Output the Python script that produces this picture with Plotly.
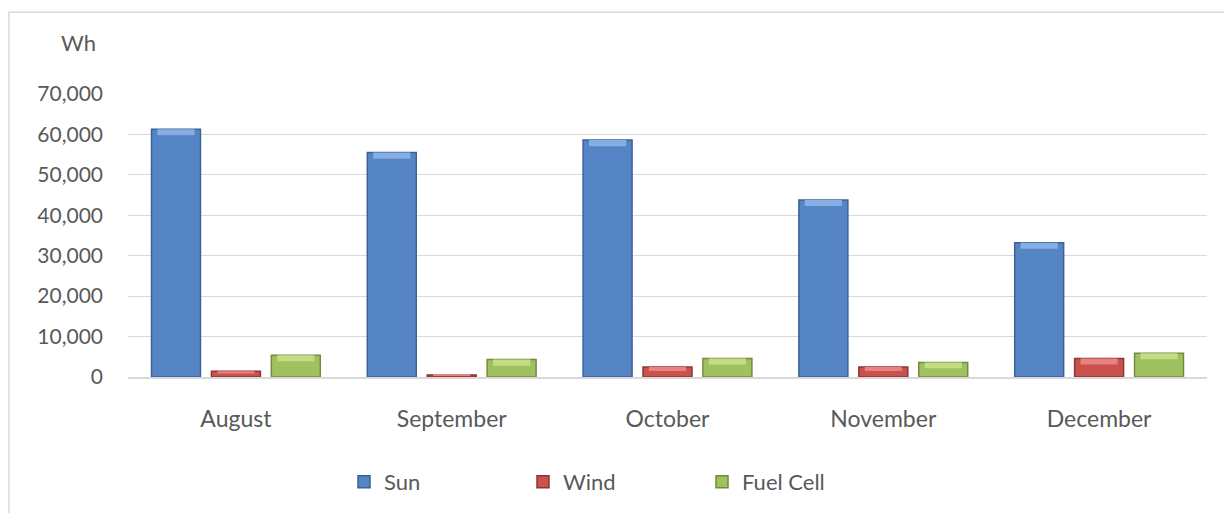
import plotly.graph_objects as go

months = ["August", "September", "October", "November", "December"]
sun = [61300, 55500, 58600, 43800, 33200]
wind = [1400, 500, 2500, 2500, 4600]
fuel_cell = [5400, 4300, 4600, 3600, 5900]
y_ticks = [0, 10000, 20000, 30000, 40000, 50000, 60000, 70000]
y_tick_labels = ["0", "10,000", "20,000", "30,000", "40,000", "50,000", "60,000", "70,000"]

FONT = "Lato"
TXT = "#595959"
OFF = 8  # page body margin
W, H = 1232 - OFF, 513 - OFF
L, T = 128 - OFF, 94 - OFF
R = W - (1207 - OFF)
B = H - (378 - OFF)
pw, ph = W - L - R, H - T - B
BEVEL = 1500  # max height of the light top band, in axis units (style only)
BEVEL_FRAC = 0.4

def px_x(x):
    return (x - OFF - L) / pw

def px_y(y):
    return (H - B - (y - OFF)) / ph

fig = go.Figure()
series = [
    ("Sun", sun, "#5585C5", "#3A6296", "#86AEE2"),
    ("Wind", wind, "#C9524F", "#8E3533", "#E8817F"),
    ("Fuel Cell", fuel_cell, "#A0C15F", "#728C3E", "#C3DD85"),
]
for name, vals, col, edge, light in series:
    fig.add_trace(go.Bar(
        x=months, y=vals, name=name, offsetgroup=name,
        marker=dict(color=col, line=dict(color=edge, width=1.5)),
    ))
    band = [min(BEVEL, v * BEVEL_FRAC) for v in vals]
    fig.add_trace(go.Bar(
        x=months, y=band, base=[v - b for v, b in zip(vals, band)],
        name=name, offsetgroup=name, showlegend=False, hoverinfo="skip",
        width=0.62 * (1 - 0.167) / 3,
        marker=dict(color=light, line=dict(width=0)),
    ))

fig.update_layout(
    width=W, height=H,
    margin=dict(l=L, r=R, t=T, b=B),
    paper_bgcolor="white", plot_bgcolor="white",
    barmode="group", bargap=0.167, bargroupgap=0.183,
    font=dict(family=FONT, size=21, color=TXT),
    showlegend=True,
    legend=dict(orientation="h", x=px_x(344), xanchor="left", y=px_y(482), yanchor="middle",
                font=dict(size=22, color=TXT), entrywidth=134, entrywidthmode="pixels",
                itemwidth=30, bgcolor="rgba(0,0,0,0)"),
    xaxis=dict(showgrid=False, showline=True, linecolor="#D9D9D9", linewidth=2,
               ticks="", ticklabelstandoff=20, tickfont=dict(size=23, color=TXT)),
    yaxis=dict(range=[0, 70000], tickvals=y_ticks, ticktext=y_tick_labels,
               showgrid=True, gridcolor="#D9D9D9", gridwidth=1.2, zeroline=False,
               showline=False, ticks="", ticklabelstandoff=24,
               tickfont=dict(size=21, color=TXT)),
    annotations=[dict(text="Wh", xref="paper", yref="paper", x=px_x(98), y=px_y(42),
                      xanchor="right", yanchor="middle", showarrow=False,
                      font=dict(size=22, color=TXT))],
    shapes=[dict(type="rect", xref="paper", yref="paper",
                 x0=px_x(9), x1=px_x(1232 + 20), y0=px_y(513 + 20), y1=px_y(12),
                 line=dict(color="#D9D9D9", width=1.5), fillcolor="rgba(0,0,0,0)", layer="below")],
)

fig.write_html("out.html")
